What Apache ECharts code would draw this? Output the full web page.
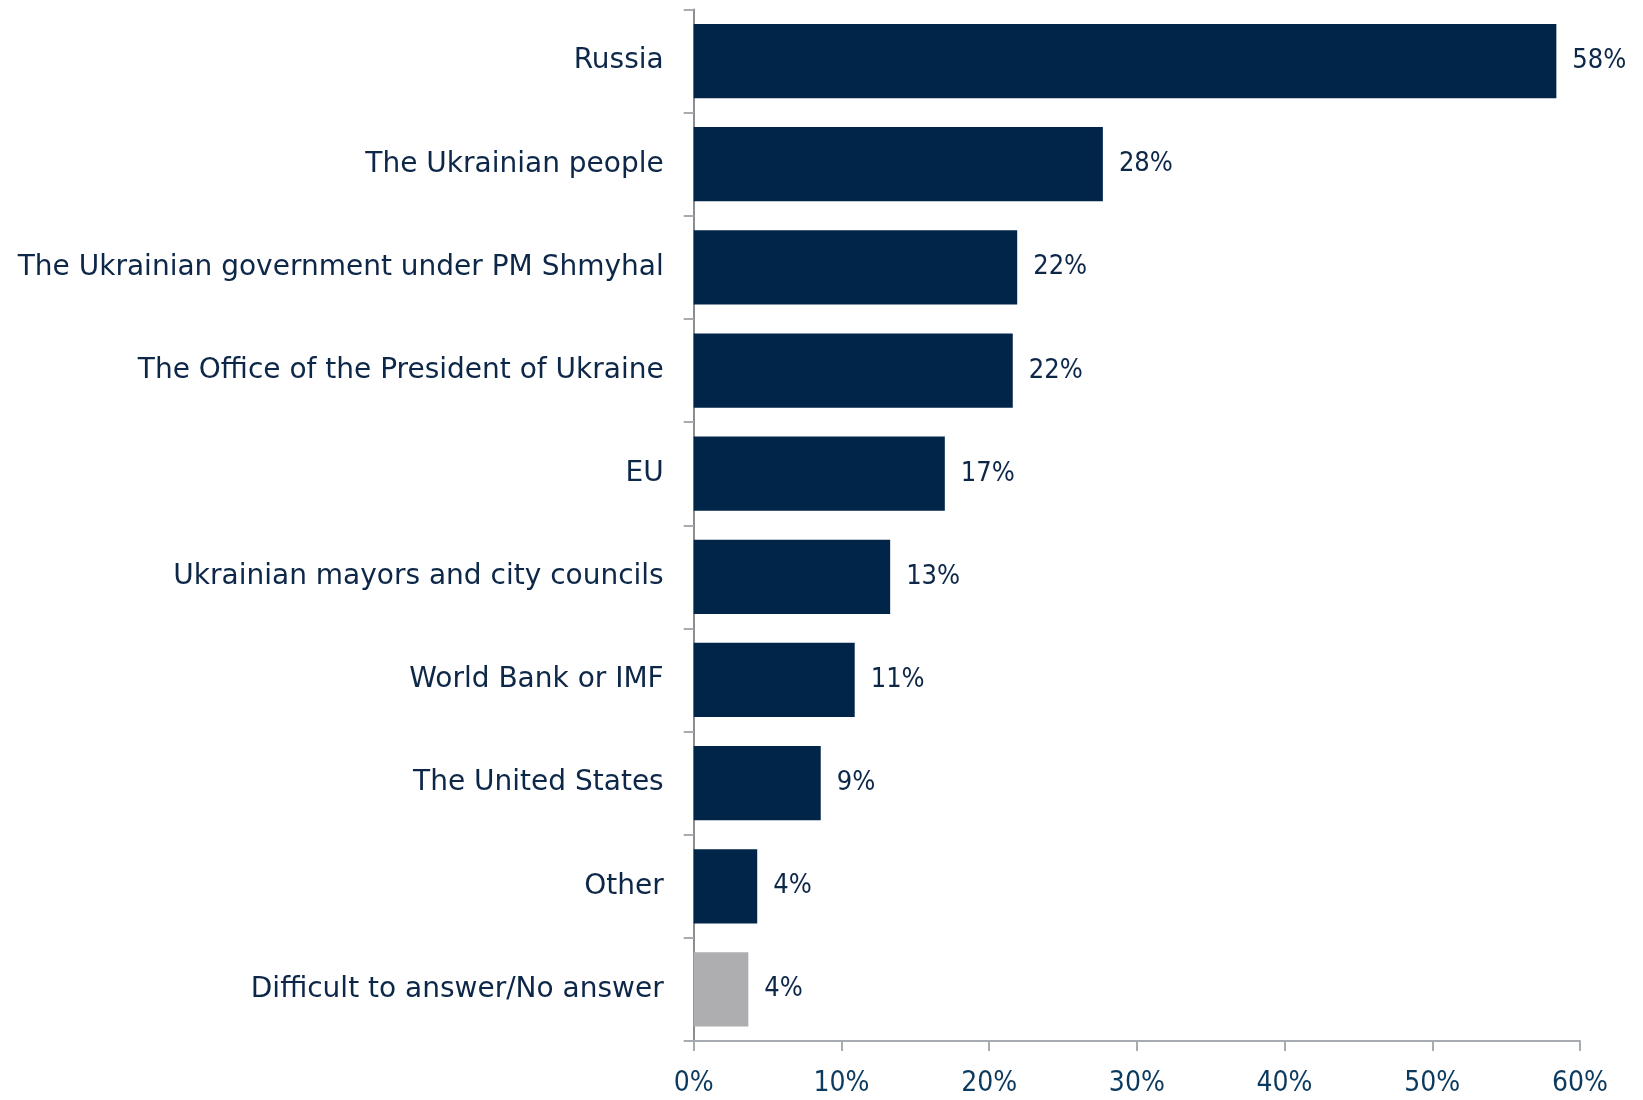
<!DOCTYPE html>
<html><head><meta charset="utf-8">
<script src="https://cdn.jsdelivr.net/npm/echarts@6/dist/echarts.min.js"></script>
<style>html,body{margin:0;padding:0;background:#fff}#c{width:1643px;height:1100px}</style>
</head><body><div id="c"></div>
<script>
var categories = ["Russia","The Ukrainian people","The Ukrainian government under PM Shmyhal","The Office of the President of Ukraine","EU","Ukrainian mayors and city councils","World Bank or IMF","The United States","Other","Difficult to answer/No answer"];
var values = [58.4, 27.7, 21.9, 21.6, 17.0, 13.3, 10.9, 8.6, 4.3, 3.7];
var valueLabels = ["58%","28%","22%","22%","17%","13%","11%","9%","4%","4%"];
var xTicks = [0,10,20,30,40,50,60];
var FONT = '"DejaVu Sans Condensed", "DejaVu Sans", sans-serif';
var FONT2 = '"DejaVu Sans", sans-serif';
var chart = echarts.init(document.getElementById('c'));
chart.setOption({
  animation:false,
  grid:{left:693.7,right:63,top:9.5,bottom:59,containLabel:false},
  xAxis:{type:'value',min:xTicks[0],max:xTicks[xTicks.length-1],interval:10,
    axisLine:{show:true,lineStyle:{color:'#a8abb2',width:2}},
    axisTick:{show:true,length:10,lineStyle:{color:'#a8abb2',width:2}},
    splitLine:{show:false},
    axisLabel:{formatter:'{value}%',color:'#0c3a5e',fontSize:28,fontFamily:FONT,margin:29}},
  yAxis:{type:'category',data:categories,inverse:true,
    axisLine:{show:true,lineStyle:{color:'#8a8d94',width:2}},
    axisTick:{show:true,length:10,lineStyle:{color:'#a8abb2',width:2}},
    axisLabel:{color:'#0d2748',fontSize:28,fontFamily:FONT2,margin:30,lineHeight:40,padding:[6,0,0,0]}},
  series:[{type:'bar',barWidth:'72%',
    data:values.map(function(v,i){return {value:v,itemStyle:{color:i===values.length-1?'#aeaeb0':'#002549'}};}),
    label:{show:true,position:'right',distance:16,color:'#0d2748',fontSize:27,fontFamily:FONT,
      formatter:function(p){return valueLabels[p.dataIndex];}}}]
});
</script></body></html>
